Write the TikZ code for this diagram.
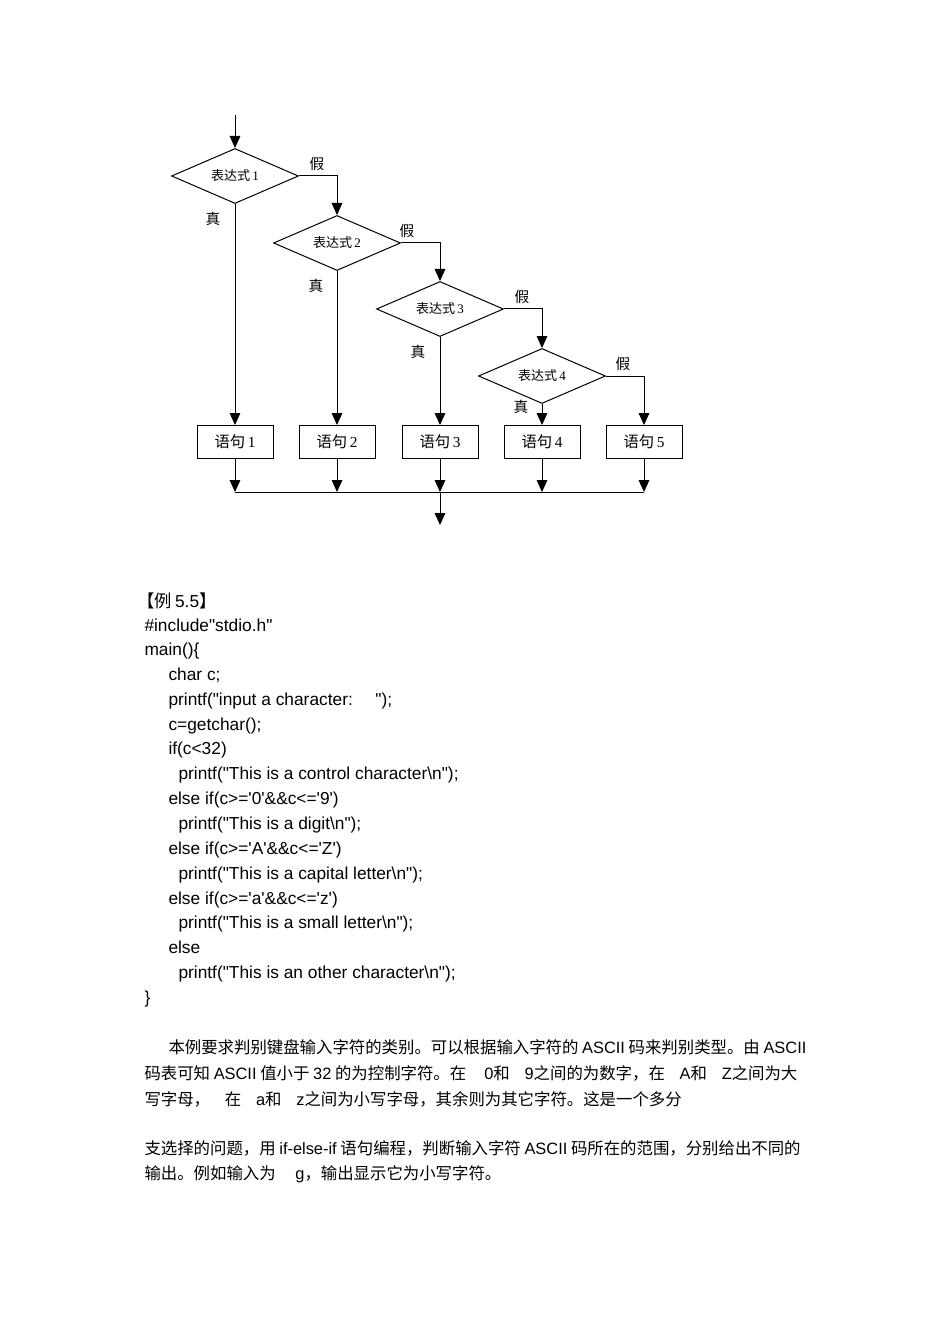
\documentclass[tikz,border=0pt]{standalone}
\usepackage{fontspec}
\usetikzlibrary{arrows.meta,shapes.geometric}
\newfontfamily\cjk{Noto Sans CJK SC}
\newfontfamily\code{Liberation Sans}
\newfontfamily\serifd{Liberation Serif}
\newcommand\lat[1]{{\code #1}}
\begin{document}
\begin{tikzpicture}[x=0.75pt,y=-0.75pt,
  line width=0.75pt,
  arr/.style={-{Triangle[length=9pt,width=8pt]}},
  cond/.style={draw,diamond,aspect=2.31,minimum width=127*0.75pt,minimum height=55*0.75pt,inner sep=0pt,font=\cjk\fontsize{9.8}{11}\selectfont},
  stmt/.style={draw,rectangle,minimum width=76*0.75pt,minimum height=33*0.75pt,inner sep=0pt,font=\cjk\fontsize{11.5}{13}\selectfont},
  lbl/.style={font=\cjk\fontsize{11}{12}\selectfont,inner sep=0pt},
  codeline/.style={anchor=mid west,inner sep=0pt,yshift=-3pt,font=\code\fontsize{13}{15}\selectfont},
  para/.style={anchor=mid west,inner sep=0pt,yshift=-2.5pt,font=\cjk\fontsize{12.3}{14}\selectfont}
]
\useasboundingbox[fill=white] (0,0) rectangle (950,1344);

% flowchart
\coordinate (start) at (235,115);
\node[cond] (d1) at (235,176) {表达式\,{\serifd 1}};
\node[cond] (d2) at (337,243) {表达式\,{\serifd 2}};
\node[cond] (d3) at (440,309) {表达式\,{\serifd 3}};
\node[cond] (d4) at (542,376) {表达式\,{\serifd 4}};
\node[stmt] (b1) at (235,442) {语句\,{\serifd 1}};
\node[stmt] (b2) at (337,442) {语句\,{\serifd 2}};
\node[stmt] (b3) at (440,442) {语句\,{\serifd 3}};
\node[stmt] (b4) at (542,442) {语句\,{\serifd 4}};
\node[stmt] (b5) at (644,442) {语句\,{\serifd 5}};
\coordinate (j1) at (235,492);
\coordinate (j2) at (337,492);
\coordinate (j3) at (440,492);
\coordinate (j4) at (542,492);
\coordinate (j5) at (644,492);
\coordinate (end) at (440,525);

\node[lbl] (f1) at (317,164) {假};
\node[lbl] (t1) at (213,219) {真};
\node[lbl] (f2) at (407,231) {假};
\node[lbl] (t2) at (316,286) {真};
\node[lbl] (f3) at (522,297) {假};
\node[lbl] (t3) at (418,352) {真};
\node[lbl] (f4) at (623,364) {假};
\node[lbl] (t4) at (521,407) {真};

\draw[arr] (start) -- (d1.north);
\draw[arr] (d1.east) -| (d2.north);
\draw[arr] (d2.east) -| (d3.north);
\draw[arr] (d3.east) -| (d4.north);
\draw[arr] (d4.east) -| (b5.north);
\draw[arr] (d1.south) -- (b1.north);
\draw[arr] (d2.south) -- (b2.north);
\draw[arr] (d3.south) -- (b3.north);
\draw[arr] (d4.south) -- (b4.north);
\draw[arr] (b1.south) -- (j1);
\draw[arr] (b2.south) -- (j2);
\draw[arr] (b3.south) -- (j3);
\draw[arr] (b4.south) -- (j4);
\draw[arr] (b5.south) -- (j5);
\draw (j1) -- (j5);
\draw[arr] (j3) -- (end);

% code listing
\node[codeline] (c0) at (137,601) {{\cjk 【例}\,5.5{\cjk 】}};
\node[codeline] (c1) at (144,625) {\#include"stdio.h"};
\node[codeline] (c2) at (144,649) {main()\{};
\node[codeline] (c3) at (168,674) {char c;};
\node[codeline] (c4) at (168,699) {printf("input a character:\hspace{1.3em}");};
\node[codeline] (c5) at (168,724) {c=getchar();};
\node[codeline] (c6) at (168,748) {if(c<32)};
\node[codeline] (c7) at (178,773) {printf("This is a control character\textbackslash n");};
\node[codeline] (c8) at (168,798) {else if(c>='0'\&\&c<='9')};
\node[codeline] (c9) at (178,823) {printf("This is a digit\textbackslash n");};
\node[codeline] (c10) at (168,848) {else if(c>='A'\&\&c<='Z')};
\node[codeline] (c11) at (178,873) {printf("This is a capital letter\textbackslash n");};
\node[codeline] (c12) at (168,898) {else if(c>='a'\&\&c<='z')};
\node[codeline] (c13) at (178,922) {printf("This is a small letter\textbackslash n");};
\node[codeline] (c14) at (168,947) {else};
\node[codeline] (c15) at (178,972) {printf("This is an other character\textbackslash n");};
\node[codeline] (c16) at (144,997) {\}};

% paragraph
\node[para] (p1) at (168,1047) {本例要求判别键盘输入字符的类别。可以根据输入字符的 \lat{ASCII} 码来判别类型。由 \lat{ASCII}};
\node[para] (p2) at (144,1073) {码表可知 \lat{ASCII} 值小于 \lat{32} 的为控制字符。在\hspace{1.1em}\lat{0}和\hspace{0.9em}\lat{9}之间的为数字，在\hspace{0.9em}\lat{A}和\hspace{0.9em}\lat{Z}之间为大};
\node[para] (p3) at (144,1099) {写字母，\hspace{0.9em}在\hspace{0.9em}\lat{a}和\hspace{0.9em}\lat{z}之间为小写字母，其余则为其它字符。这是一个多分};
\node[para] (p4) at (144,1148) {支选择的问题，用 \lat{if-else-if} 语句编程，判断输入字符 \lat{ASCII} 码所在的范围，分别给出不同的};
\node[para] (p5) at (144,1173) {输出。例如输入为\hspace{1.2em}\lat{g}，输出显示它为小写字符。};
\end{tikzpicture}
\end{document}
